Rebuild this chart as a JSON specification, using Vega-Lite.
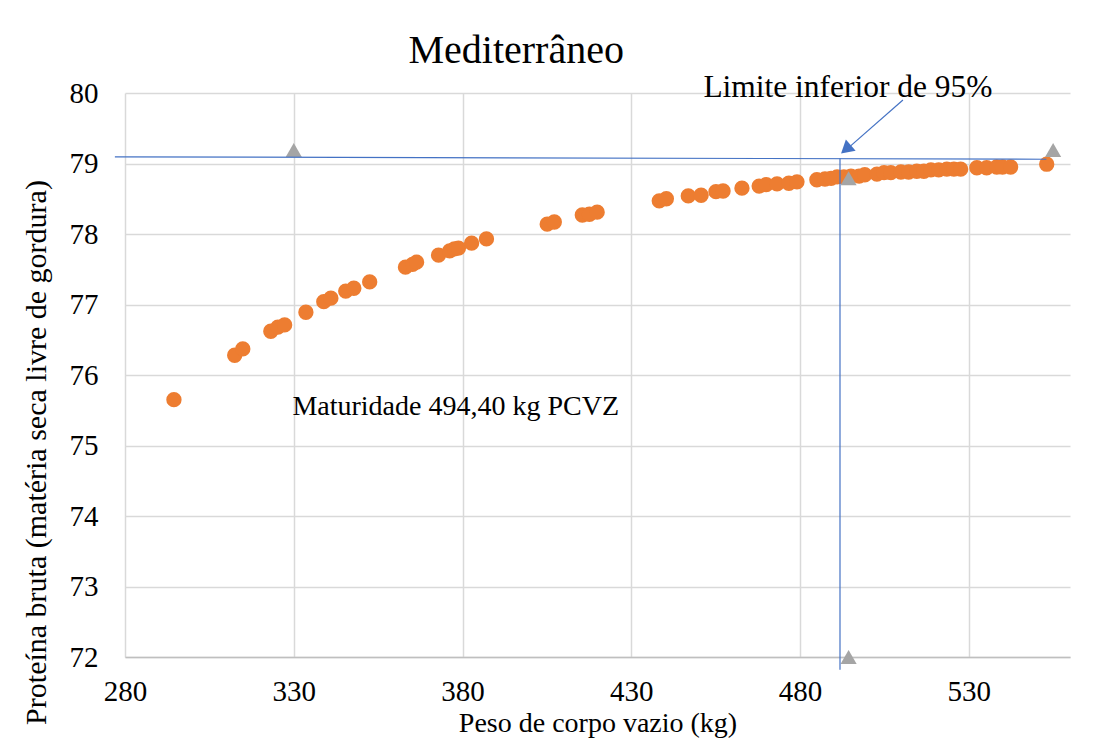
{
  "$schema": "https://vega.github.io/schema/vega-lite/v6.json",
  "width": 945,
  "height": 564,
  "autosize": {"type": "none"},
  "padding": {"left": 125, "top": 93, "right": 35, "bottom": 83},
  "background": "white",
  "config": {
    "view": {"stroke": null},
    "font": "Liberation Serif",
    "axis": {"gridColor": "#D9D9D9", "gridWidth": 1.5, "ticks": false}
  },
  "layer": [
    {
      "data": {"values": [
        {"peso": 294.5, "prot": 75.65}, {"peso": 312.5, "prot": 76.28}, {"peso": 314.9, "prot": 76.37},
        {"peso": 323.2, "prot": 76.62}, {"peso": 325.3, "prot": 76.68}, {"peso": 327.3, "prot": 76.71},
        {"peso": 333.6, "prot": 76.89}, {"peso": 338.9, "prot": 77.04}, {"peso": 341.0, "prot": 77.09},
        {"peso": 345.4, "prot": 77.19}, {"peso": 347.8, "prot": 77.23}, {"peso": 352.5, "prot": 77.32},
        {"peso": 363.1, "prot": 77.53}, {"peso": 365.2, "prot": 77.57}, {"peso": 366.4, "prot": 77.60},
        {"peso": 372.9, "prot": 77.70}, {"peso": 376.2, "prot": 77.76}, {"peso": 377.6, "prot": 77.79},
        {"peso": 378.8, "prot": 77.80}, {"peso": 382.7, "prot": 77.87}, {"peso": 387.1, "prot": 77.93},
        {"peso": 405.1, "prot": 78.14}, {"peso": 407.2, "prot": 78.17}, {"peso": 415.5, "prot": 78.27},
        {"peso": 417.6, "prot": 78.28}, {"peso": 419.9, "prot": 78.31}, {"peso": 438.3, "prot": 78.47},
        {"peso": 440.4, "prot": 78.50}, {"peso": 446.9, "prot": 78.54}, {"peso": 450.7, "prot": 78.55},
        {"peso": 455.1, "prot": 78.60}, {"peso": 457.2, "prot": 78.61}, {"peso": 462.8, "prot": 78.65},
        {"peso": 467.9, "prot": 78.68}, {"peso": 470.0, "prot": 78.70}, {"peso": 473.2, "prot": 78.71},
        {"peso": 476.7, "prot": 78.72}, {"peso": 479.1, "prot": 78.74}, {"peso": 485.0, "prot": 78.77},
        {"peso": 487.4, "prot": 78.78}, {"peso": 489.2, "prot": 78.79}, {"peso": 491.0, "prot": 78.81},
        {"peso": 493.0, "prot": 78.81}, {"peso": 495.1, "prot": 78.82}, {"peso": 497.5, "prot": 78.82},
        {"peso": 499.2, "prot": 78.84}, {"peso": 502.8, "prot": 78.85}, {"peso": 504.9, "prot": 78.87},
        {"peso": 506.9, "prot": 78.87}, {"peso": 509.9, "prot": 78.88}, {"peso": 512.2, "prot": 78.88},
        {"peso": 514.6, "prot": 78.89}, {"peso": 516.7, "prot": 78.89}, {"peso": 518.8, "prot": 78.91},
        {"peso": 521.1, "prot": 78.91}, {"peso": 523.5, "prot": 78.92}, {"peso": 525.6, "prot": 78.92},
        {"peso": 527.6, "prot": 78.92}, {"peso": 532.4, "prot": 78.94}, {"peso": 535.3, "prot": 78.94},
        {"peso": 538.3, "prot": 78.95}, {"peso": 540.0, "prot": 78.95}, {"peso": 542.4, "prot": 78.95},
        {"peso": 553.1, "prot": 78.99}
      ]},
      "mark": {"type": "circle", "size": 235, "opacity": 1, "color": "#ED7D31"},
      "encoding": {
        "x": {"field": "peso", "type": "quantitative", "scale": {"domain": [280, 560], "nice": false, "zero": false},
          "axis": {"title": "Peso de corpo vazio (kg)", "values": [280, 330, 380, 430, 480, 530], "format": "d",
            "labelFont": "Liberation Serif", "labelFontSize": 29, "labelColor": "#000000", "labelPadding": 20,
            "titleFont": "Liberation Serif", "titleFontSize": 28, "titleFontWeight": "normal", "titleColor": "#000000",
            "titleY": 66, "titleBaseline": "middle", "domainColor": "#BFBFBF", "domainWidth": 1.5, "labelFlush": false}},
        "y": {"field": "prot", "type": "quantitative", "scale": {"domain": [72, 80], "nice": false, "zero": false},
          "axis": {"title": "Proteína bruta (matéria seca livre de gordura)", "values": [72, 73, 74, 75, 76, 77, 78, 79, 80], "format": "d",
            "labelFont": "Liberation Serif", "labelFontSize": 29, "labelColor": "#000000", "labelPadding": 27,
            "titleFont": "Liberation Serif", "titleFontSize": 30, "titleFontWeight": "normal", "titleColor": "#000000",
            "titleX": -89, "titleY": 359, "titleBaseline": "middle", "domain": false, "labelFlush": false}}
      }
    },
    {
      "data": {"values": [
        {"peso": 330, "prot": 79.19}, {"peso": 494.4, "prot": 78.79}, {"peso": 494.4, "prot": 72.0}, {"peso": 555, "prot": 79.19}
      ]},
      "mark": {"type": "point", "shape": "triangle-up", "filled": true, "size": 260, "color": "#A5A5A5", "opacity": 1},
      "encoding": {
        "x": {"field": "peso", "type": "quantitative"},
        "y": {"field": "prot", "type": "quantitative"}
      }
    },
    {
      "data": {"values": [
        {"x1": 277, "y1": 79.095, "x2": 553, "y2": 79.06},
        {"x1": 491.85, "y1": 79.07, "x2": 491.85, "y2": 71.82},
        {"x1": 510.5, "y1": 79.9, "x2": 495, "y2": 79.25}
      ]},
      "mark": {"type": "rule", "color": "#4472C4", "strokeWidth": 1.2, "clip": false},
      "encoding": {
        "x": {"field": "x1", "type": "quantitative"},
        "y": {"field": "y1", "type": "quantitative"},
        "x2": {"field": "x2"},
        "y2": {"field": "y2"}
      }
    },
    {
      "data": {"values": [{"peso": 493.6, "prot": 79.2}]},
      "mark": {"type": "point", "shape": "triangle-up", "filled": true, "size": 220, "angle": 229, "color": "#4472C4", "opacity": 1},
      "encoding": {
        "x": {"field": "peso", "type": "quantitative"},
        "y": {"field": "prot", "type": "quantitative"}
      }
    },
    {
      "data": {"values": [
        {"peso": 329.6, "prot": 75.55, "label": "Maturidade 494,40 kg PCVZ"}
      ]},
      "mark": {"type": "text", "align": "left", "baseline": "middle", "fontSize": 28, "font": "Liberation Serif", "color": "#000000"},
      "encoding": {
        "x": {"field": "peso", "type": "quantitative"},
        "y": {"field": "prot", "type": "quantitative"},
        "text": {"field": "label"}
      }
    },
    {
      "data": {"values": [
        {"peso": 494.2, "prot": 80.07, "label": "Limite inferior de 95%", "fs": 22},
        {"peso": 395.9, "prot": 80.6, "label": "Mediterrâneo", "fs": 30}
      ]},
      "mark": {"type": "text", "align": "center", "baseline": "middle", "font": "Liberation Serif", "color": "#000000", "clip": false},
      "encoding": {
        "x": {"field": "peso", "type": "quantitative"},
        "y": {"field": "prot", "type": "quantitative"},
        "text": {"field": "label"},
        "size": {"field": "fs", "type": "quantitative", "scale": {"type": "identity"}, "legend": null}
      }
    }
  ]
}
